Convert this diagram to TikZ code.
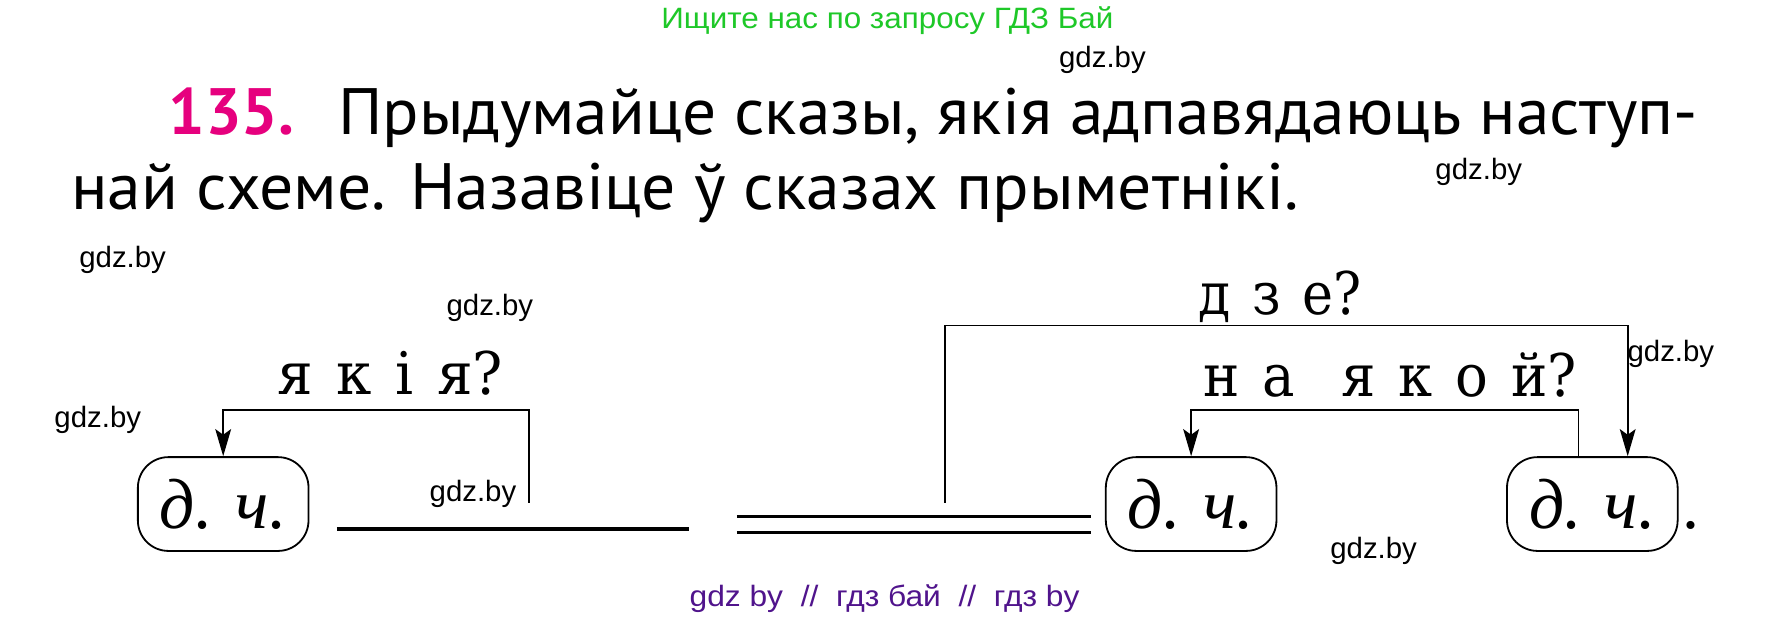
\documentclass[tikz,border=0pt]{standalone}
\usepackage{fontspec}
\usepackage{graphicx}
\setmainfont{Liberation Serif}
\newfontfamily\headfont{PT Sans}
\newfontfamily\wmfont{Liberation Sans}
\newfontfamily\qfont{DejaVu Serif}
\usetikzlibrary{arrows.meta,calc}
\definecolor{wmgreen}{RGB}{30,200,40}
\definecolor{wmpurple}{RGB}{80,20,140}
\definecolor{numpink}{RGB}{230,0,126}
\newcommand{\fitw}[2]{\resizebox{#1}{\height}{#2}}
\newcommand{\gap}{\hspace{0.42em}}
\begin{document}
\begin{tikzpicture}[x=1pt,y=-1pt,
  txt/.style={inner sep=0pt,anchor=base west},
  wm/.style={txt,font=\wmfont\fontsize{26}{26}\selectfont},
  head/.style={txt,font=\headfont\fontsize{58}{58}\selectfont},
  qlab/.style={txt,font=\qfont\fontsize{52}{52}\selectfont},
  partbox/.style={draw,line width=1.6pt,rounded corners=27pt,minimum width=151pt,minimum height=83pt,inner sep=0pt,font=\itshape\fontsize{63}{63}\selectfont},
  link/.style={line width=1.4pt},
  arr/.style={link,-{Stealth[length=24pt,width=14pt,inset=5pt]}},
  under/.style={line width=3pt}]
\useasboundingbox (0,0) rectangle (1568,546);
\fill[white] (0,0) rectangle (1568,546);
% watermarks
\node[wm,text=wmgreen] (top) at (585,25) {\fitw{400pt}{Ищите нас по запросу ГДЗ Бай}};
\node[wm,text=wmpurple] (bot) at (610,537) {\fitw{345pt}{gdz by\ \ //\ \ гдз бай\ \ //\ \ гдз by}};
\node[wm] (w1) at (937,60) {gdz.by};
\node[wm] (w2) at (1270,159) {gdz.by};
\node[wm] (w3) at (70,237) {gdz.by};
\node[wm] (w4) at (395,279) {gdz.by};
\node[wm] (w5) at (48,378) {gdz.by};
\node[wm] (w6) at (380,444) {gdz.by};
\node[wm] (w7) at (1440,320) {gdz.by};
\node[wm] (w8) at (1177,494) {gdz.by};
% heading
\node[head,text=numpink,font=\headfont\bfseries\fontsize{58}{58}\selectfont] (num) at (149,119) {\fitw{111pt}{135.}};
\node[head] (l1) at (299,119) {\fitw{1203pt}{Прыдумайце сказы, якія адпавядаюць наступ-}};
\node[head] (l2) at (63,185) {\fitw{1086pt}{най схеме. Назавіце ў сказах прыметнікі.}};
% question labels
\node[qlab] (q1) at (245,349) {\fitw{200pt}{я\gap к\gap і\gap я?}};
\node[qlab] (q2) at (1060,278) {\fitw{145pt}{д\gap з\gap е?}};
\node[qlab] (q3) at (1065,351) {\fitw{330pt}{н\gap а\gap\gap я\gap к\gap о\gap й?}};
% boxes
\node[partbox] (b1) at (197.5,446) {\fitw{112pt}{д. ч.}};
\node[partbox] (b2) at (1054,446) {\fitw{112pt}{д. ч.}};
\node[partbox] (b3) at (1409,446) {\fitw{112pt}{д. ч.}};
\node[txt,font=\fontsize{60}{60}\selectfont] (dot) at (1489,468) {.};
% underlines
\coordinate (u1a) at (298,468);
\coordinate (u1b) at (610,468);
\draw[under] (u1a) -- (u1b);
\coordinate (u2a) at (652,457);
\coordinate (u2b) at (965,457);
\coordinate (u3a) at (652,471);
\coordinate (u3b) at (965,471);
\draw[under] (u2a) -- (u2b);
\draw[under] (u3a) -- (u3b);
% connectors
\coordinate (s1) at (468,445);
\draw[arr] (s1) -- ++(0,-82) -| (b1.north);
\coordinate (s2) at (836,445);
\draw[arr] (s2) -- ++(0,-157) -| ($(b3.north east)+(-45,0)$);
\draw[arr] ($(b3.north west)+(64,0)$) -- ++(0,-41) -| (b2.north);
\end{tikzpicture}
\end{document}
